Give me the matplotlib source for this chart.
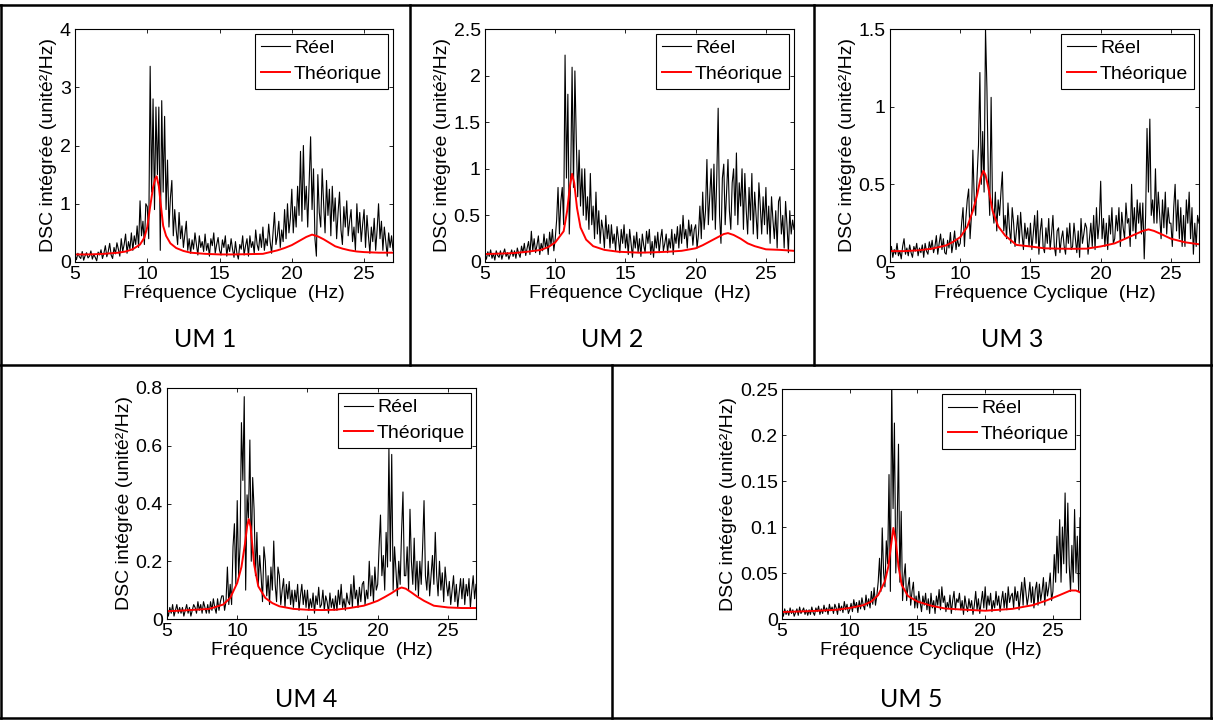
import numpy as np
import matplotlib
matplotlib.use('Agg')
import matplotlib.pyplot as plt
from matplotlib.lines import Line2D
from matplotlib.ticker import FuncFormatter

W, H = 1213, 720

# black = measured spectrum, read every 0.1 Hz from 5 to 27 Hz (one row = 1 Hz)
# red = theoretical spectrum, (frequency, value) pairs

# --- UM 1 ---
reel1 = [0.12, 0.04, 0.15, 0.09, 0.06, 0.18, 0.03, 0.11, 0.16, 0.07,
         0.10, 0.19, 0.05, 0.13, 0.08, 0.02, 0.17, 0.12, 0.21, 0.06,
         0.15, 0.28, 0.09, 0.18, 0.32, 0.12, 0.06, 0.25, 0.14, 0.33,
         0.22, 0.10, 0.40, 0.18, 0.30, 0.48, 0.15, 0.35, 0.22, 0.50,
         0.20, 0.45, 0.30, 0.62, 0.25, 1.05, 0.45, 0.70, 0.30, 1.00,
         0.95, 0.40, 3.36, 1.20, 2.80, 0.90, 2.66, 1.50, 2.66, 0.20,
         2.77, 1.20, 2.50, 0.90, 1.75, 0.60, 1.10, 1.40, 0.45, 0.90,
         0.55, 0.30, 0.85, 0.40, 0.62, 0.25, 0.48, 0.70, 0.20, 0.40,
         0.15, 0.38, 0.22, 0.50, 0.30, 0.12, 0.45, 0.25, 0.35, 0.18,
         0.48, 0.20, 0.32, 0.10, 0.40, 0.28, 0.50, 0.15, 0.30, 0.42,
         0.20, 0.12, 0.38, 0.25, 0.45, 0.10, 0.30, 0.18, 0.40, 0.22,
         0.08, 0.35, 0.15, 0.05, 0.30, 0.22, 0.45, 0.12, 0.28, 0.40,
         0.10, 0.45, 0.25, 0.35, 0.15, 0.55, 0.30, 0.20, 0.48, 0.25,
         0.60, 0.20, 0.40, 0.28, 0.65, 0.35, 0.15, 0.50, 0.85, 0.30,
         0.45, 0.70, 0.25, 0.55, 0.35, 0.90, 0.40, 1.00, 0.50, 0.75,
         1.25, 0.50, 0.95, 0.60, 1.30, 0.80, 1.90, 0.70, 2.00, 0.90,
         1.30, 0.60, 1.40, 2.15, 0.90, 1.60, 0.40, 0.10, 1.50, 0.85,
         0.60, 1.60, 1.00, 0.50, 1.40, 0.80, 1.25, 0.45, 1.30, 0.70,
         1.10, 0.40, 0.85, 1.20, 0.55, 0.30, 0.95, 0.60, 1.05, 0.45,
         0.70, 0.90, 0.35, 0.60, 0.20, 1.00, 0.50, 0.85, 0.35, 0.65,
         0.90, 0.25, 0.80, 0.45, 0.15, 0.60, 0.35, 0.75, 0.20, 0.55,
         1.00, 0.40, 0.70, 0.20, 0.60, 0.35, 0.10, 0.50, 0.25, 0.45,
         0.20]
theo1_f = [5, 6, 7, 8, 8.5, 9, 9.5, 9.8, 10, 10.2, 10.4, 10.55, 10.65, 10.8,
           10.95, 11.1, 11.3, 11.6, 12, 12.5, 13, 14, 15, 16, 17, 18, 19, 19.5,
           20, 20.5, 21, 21.4, 21.8, 22.2, 22.6, 23, 23.5, 24, 24.5, 25, 26, 27]
theo1 = [0.13, 0.13, 0.14, 0.16, 0.18, 0.22, 0.3, 0.42, 0.6, 0.95, 1.28, 1.43,
         1.47, 1.3, 0.95, 0.62, 0.45, 0.32, 0.24, 0.19, 0.16, 0.14, 0.13, 0.13,
         0.135, 0.14, 0.2, 0.24, 0.29, 0.36, 0.43, 0.47, 0.44, 0.39, 0.33, 0.27,
         0.23, 0.2, 0.18, 0.17, 0.16, 0.16]

# --- UM 2 ---
reel2 = [0.08, 0.03, 0.11, 0.06, 0.13, 0.04, 0.09, 0.02, 0.12, 0.07,
         0.05, 0.12, 0.03, 0.09, 0.14, 0.06, 0.10, 0.03, 0.08, 0.13,
         0.06, 0.12, 0.04, 0.15, 0.09, 0.05, 0.17, 0.10, 0.20, 0.07,
         0.15, 0.22, 0.08, 0.33, 0.12, 0.25, 0.10, 0.18, 0.28, 0.08,
         0.20, 0.12, 0.30, 0.15, 0.25, 0.08, 0.32, 0.18, 0.35, 0.12,
         0.25, 0.45, 0.80, 0.30, 0.65, 0.80, 0.40, 2.22, 0.90, 1.80,
         0.30, 0.90, 2.09, 0.80, 2.05, 1.30, 0.70, 1.20, 0.60, 1.00,
         0.50, 1.00, 0.45, 0.70, 0.35, 0.95, 0.40, 0.60, 0.25, 0.75,
         0.30, 0.55, 0.20, 0.45, 0.35, 0.15, 0.50, 0.25, 0.40, 0.15,
         0.40, 0.20, 0.30, 0.12, 0.38, 0.25, 0.10, 0.35, 0.20, 0.40,
         0.15, 0.30, 0.08, 0.35, 0.20, 0.05, 0.28, 0.15, 0.32, 0.10,
         0.25, 0.06, 0.30, 0.18, 0.10, 0.33, 0.20, 0.35, 0.08, 0.22,
         0.05, 0.28, 0.15, 0.32, 0.10, 0.25, 0.35, 0.12, 0.20, 0.30,
         0.10, 0.25, 0.15, 0.35, 0.08, 0.30, 0.20, 0.38, 0.15, 0.40,
         0.20, 0.50, 0.25, 0.35, 0.15, 0.45, 0.28, 0.40, 0.18, 0.35,
         0.40, 0.15, 0.30, 0.60, 0.25, 0.75, 0.35, 0.55, 1.10, 0.40,
         0.70, 1.00, 0.45, 1.05, 0.35, 0.90, 1.65, 0.50, 0.20, 0.90,
         1.05, 0.40, 0.75, 1.10, 0.55, 0.35, 0.85, 1.00, 0.50, 1.17,
         0.40, 0.85, 0.60, 1.00, 0.35, 0.95, 0.55, 0.30, 0.80, 0.45,
         0.95, 0.30, 0.75, 0.50, 0.25, 0.85, 0.60, 0.30, 0.70, 0.40,
         0.80, 0.30, 0.60, 0.20, 0.70, 0.45, 0.25, 0.55, 0.15, 0.65,
         0.70, 0.30, 0.50, 0.15, 0.65, 0.40, 0.10, 0.55, 0.30, 0.45,
         0.35]
theo2_f = [5, 6, 7, 8, 9, 9.5, 10, 10.3, 10.6, 10.85, 11.05, 11.2, 11.35, 11.55,
           11.8, 12.2, 12.7, 13.5, 14.5, 16, 17, 18, 19, 20, 20.5, 21, 21.5, 22,
           22.3, 22.7, 23.2, 23.7, 24.2, 25, 26, 27]
theo2 = [0.085, 0.09, 0.095, 0.11, 0.13, 0.16, 0.21, 0.27, 0.33, 0.55, 0.82,
         0.946, 0.85, 0.58, 0.37, 0.24, 0.17, 0.13, 0.11, 0.1, 0.104, 0.11, 0.12,
         0.147, 0.18, 0.22, 0.26, 0.3, 0.31, 0.29, 0.25, 0.2, 0.17, 0.136, 0.13,
         0.12]

# --- UM 3 ---
reel3 = [0.05, 0.10, 0.03, 0.08, 0.05, 0.12, 0.04, 0.07, 0.02, 0.10,
         0.15, 0.05, 0.09, 0.04, 0.11, 0.06, 0.03, 0.10, 0.07, 0.12,
         0.04, 0.09, 0.06, 0.11, 0.03, 0.12, 0.07, 0.05, 0.13, 0.08,
         0.14, 0.06, 0.10, 0.17, 0.05, 0.12, 0.18, 0.08, 0.15, 0.06,
         0.05, 0.14, 0.09, 0.19, 0.06, 0.12, 0.20, 0.08, 0.15, 0.10,
         0.12, 0.25, 0.35, 0.10, 0.28, 0.40, 0.47, 0.15, 0.30, 0.72,
         0.40, 0.30, 0.55, 0.75, 1.22, 0.50, 0.84, 0.45, 1.50, 1.12,
         0.55, 0.30, 1.06, 0.35, 0.25, 0.45, 0.20, 0.40, 0.30, 0.45,
         0.58, 0.20, 0.30, 0.15, 0.38, 0.22, 0.12, 0.35, 0.25, 0.10,
         0.20, 0.30, 0.12, 0.32, 0.18, 0.08, 0.25, 0.15, 0.22, 0.10,
         0.25, 0.08, 0.18, 0.30, 0.12, 0.33, 0.05, 0.20, 0.28, 0.10,
         0.06, 0.22, 0.12, 0.28, 0.08, 0.18, 0.30, 0.10, 0.04, 0.20,
         0.22, 0.06, 0.15, 0.20, 0.10, 0.05, 0.22, 0.12, 0.25, 0.08,
         0.10, 0.25, 0.15, 0.06, 0.20, 0.03, 0.28, 0.12, 0.18, 0.25,
         0.22, 0.05, 0.15, 0.25, 0.10, 0.30, 0.08, 0.35, 0.15, 0.25,
         0.52, 0.15, 0.28, 0.10, 0.25, 0.08, 0.30, 0.18, 0.35, 0.12,
         0.15, 0.30, 0.20, 0.35, 0.10, 0.32, 0.22, 0.15, 0.38, 0.25,
         0.28, 0.10, 0.50, 0.20, 0.35, 0.15, 0.40, 0.25, 0.38, 0.18,
         0.38, 0.02, 0.30, 0.86, 0.45, 0.92, 0.30, 0.40, 0.25, 0.60,
         0.25, 0.45, 0.30, 0.15, 0.40, 0.22, 0.45, 0.18, 0.35, 0.25,
         0.25, 0.10, 0.35, 0.50, 0.20, 0.40, 0.15, 0.35, 0.10, 0.30,
         0.10, 0.40, 0.25, 0.45, 0.15, 0.35, 0.05, 0.25, 0.10, 0.30,
         0.25]
theo3_f = [5, 6, 7, 8, 9, 9.5, 10, 10.5, 10.9, 11.2, 11.45, 11.65, 11.8, 12.0,
           12.3, 12.7, 13.2, 14, 15, 16, 17, 18, 19, 20, 21, 21.5, 22, 22.5, 23,
           23.4, 23.8, 24.3, 25, 26, 27]
theo3 = [0.07, 0.07, 0.075, 0.086, 0.107, 0.13, 0.16, 0.226, 0.33, 0.43, 0.54,
         0.587, 0.56, 0.48, 0.33, 0.23, 0.17, 0.11, 0.1, 0.088, 0.086, 0.085,
         0.086, 0.1, 0.12, 0.14, 0.16, 0.18, 0.2, 0.21, 0.2, 0.18, 0.15, 0.127,
         0.114]

# --- UM 4 ---
reel4 = [0.03, 0.01, 0.04, 0.02, 0.05, 0.01, 0.03, 0.05, 0.02, 0.04,
         0.02, 0.04, 0.01, 0.03, 0.05, 0.02, 0.04, 0.01, 0.03, 0.05,
         0.04, 0.02, 0.06, 0.03, 0.05, 0.02, 0.06, 0.04, 0.02, 0.05,
         0.02, 0.06, 0.03, 0.07, 0.04, 0.02, 0.07, 0.03, 0.06, 0.08,
         0.08, 0.03, 0.06, 0.18, 0.05, 0.12, 0.05, 0.25, 0.33, 0.12,
         0.41, 0.15, 0.25, 0.68, 0.48, 0.77, 0.10, 0.43, 0.35, 0.62,
         0.20, 0.49, 0.38, 0.15, 0.30, 0.12, 0.22, 0.15, 0.06, 0.25,
         0.20, 0.08, 0.15, 0.05, 0.18, 0.10, 0.27, 0.12, 0.06, 0.18,
         0.15, 0.05, 0.10, 0.14, 0.04, 0.12, 0.07, 0.13, 0.05, 0.10,
         0.04, 0.10, 0.06, 0.12, 0.03, 0.08, 0.12, 0.05, 0.10, 0.04,
         0.10, 0.03, 0.07, 0.04, 0.09, 0.02, 0.08, 0.05, 0.11, 0.04,
         0.05, 0.10, 0.03, 0.08, 0.06, 0.02, 0.09, 0.04, 0.07, 0.03,
         0.08, 0.03, 0.10, 0.05, 0.12, 0.04, 0.07, 0.03, 0.09, 0.06,
         0.05, 0.12, 0.04, 0.15, 0.07, 0.10, 0.04, 0.11, 0.06, 0.12,
         0.13, 0.05, 0.10, 0.07, 0.20, 0.08, 0.15, 0.06, 0.18, 0.10,
         0.12, 0.25, 0.36, 0.15, 0.22, 0.10, 0.30, 0.18, 0.59, 0.20,
         0.57, 0.10, 0.25, 0.17, 0.08, 0.20, 0.12, 0.30, 0.44, 0.15,
         0.15, 0.25, 0.10, 0.38, 0.20, 0.12, 0.28, 0.10, 0.20, 0.08,
         0.20, 0.12, 0.25, 0.41, 0.15, 0.10, 0.20, 0.08, 0.15, 0.22,
         0.12, 0.30, 0.15, 0.08, 0.20, 0.10, 0.16, 0.06, 0.18, 0.12,
         0.08, 0.13, 0.05, 0.10, 0.15, 0.06, 0.12, 0.04, 0.09, 0.14,
         0.07, 0.14, 0.05, 0.12, 0.08, 0.14, 0.04, 0.10, 0.15, 0.07,
         0.12]
theo4_f = [5, 6, 7, 8, 9, 9.5, 10, 10.3, 10.55, 10.7, 10.82, 10.95, 11.2, 11.5,
           12, 12.5, 13, 14, 15, 16, 17, 18, 19, 19.5, 20, 20.5, 21, 21.4, 21.7,
           22, 22.4, 22.8, 23.3, 24, 25, 26, 27]
theo4 = [0.027, 0.029, 0.032, 0.035, 0.05, 0.073, 0.125, 0.18, 0.26, 0.32, 0.346,
         0.32, 0.19, 0.113, 0.073, 0.055, 0.044, 0.035, 0.032, 0.031, 0.032,
         0.038, 0.046, 0.054, 0.063, 0.076, 0.09, 0.103, 0.109, 0.105, 0.092,
         0.078, 0.063, 0.046, 0.04, 0.038, 0.038]

# --- UM 5 ---
reel5 = [0.008, 0.003, 0.011, 0.005, 0.009, 0.004, 0.012, 0.006, 0.010, 0.003,
         0.007, 0.011, 0.004, 0.013, 0.006, 0.009, 0.012, 0.005, 0.010, 0.004,
         0.010, 0.005, 0.013, 0.007, 0.004, 0.012, 0.008, 0.014, 0.005, 0.011,
         0.006, 0.015, 0.008, 0.012, 0.005, 0.016, 0.009, 0.013, 0.006, 0.016,
         0.012, 0.005, 0.017, 0.009, 0.014, 0.007, 0.019, 0.010, 0.016, 0.006,
         0.010, 0.017, 0.008, 0.021, 0.012, 0.018, 0.007, 0.020, 0.011, 0.023,
         0.015, 0.010, 0.026, 0.014, 0.022, 0.012, 0.030, 0.016, 0.034, 0.015,
         0.025, 0.040, 0.066, 0.030, 0.099, 0.050, 0.035, 0.085, 0.060, 0.157,
         0.030, 0.260, 0.120, 0.213, 0.050, 0.100, 0.190, 0.040, 0.117, 0.020,
         0.045, 0.060, 0.020, 0.035, 0.045, 0.015, 0.030, 0.040, 0.012, 0.025,
         0.012, 0.030, 0.018, 0.008, 0.025, 0.015, 0.028, 0.010, 0.022, 0.006,
         0.028, 0.012, 0.020, 0.006, 0.025, 0.015, 0.032, 0.010, 0.035, 0.018,
         0.025, 0.008, 0.018, 0.012, 0.026, 0.006, 0.020, 0.030, 0.010, 0.022,
         0.018, 0.028, 0.010, 0.020, 0.005, 0.025, 0.015, 0.008, 0.022, 0.012,
         0.020, 0.005, 0.015, 0.030, 0.010, 0.022, 0.006, 0.018, 0.030, 0.012,
         0.035, 0.010, 0.025, 0.015, 0.028, 0.008, 0.020, 0.012, 0.030, 0.015,
         0.025, 0.008, 0.020, 0.030, 0.012, 0.028, 0.010, 0.035, 0.018, 0.025,
         0.028, 0.012, 0.035, 0.020, 0.030, 0.010, 0.025, 0.040, 0.015, 0.045,
         0.030, 0.015, 0.025, 0.040, 0.018, 0.035, 0.012, 0.032, 0.040, 0.015,
         0.038, 0.020, 0.030, 0.045, 0.015, 0.040, 0.025, 0.035, 0.050, 0.020,
         0.030, 0.070, 0.040, 0.090, 0.050, 0.108, 0.040, 0.100, 0.060, 0.137,
         0.050, 0.126, 0.060, 0.030, 0.080, 0.040, 0.119, 0.050, 0.090, 0.030,
         0.110]
theo5_f = [5, 7, 9, 10, 11, 11.6, 12.1, 12.6, 12.85, 13.05, 13.22, 13.4, 13.6,
           13.84, 14.3, 15, 16, 17, 18, 20, 22, 23.5, 24.5, 25.5, 26.3, 26.7, 27]
theo5 = [0.0076, 0.0085, 0.01, 0.012, 0.015, 0.019, 0.026, 0.041, 0.057, 0.08,
         0.099, 0.085, 0.057, 0.037, 0.025, 0.019, 0.0145, 0.0115, 0.0105, 0.009,
         0.011, 0.015, 0.02, 0.026, 0.031, 0.031, 0.029]

captions = ['UM 1', 'UM 2', 'UM 3', 'UM 4', 'UM 5']
yticks = [[0, 1, 2, 3, 4],
          [0, 0.5, 1, 1.5, 2, 2.5],
          [0, 0.5, 1, 1.5],
          [0, 0.2, 0.4, 0.6, 0.8],
          [0, 0.05, 0.1, 0.15, 0.2, 0.25]]

plt.rcParams['font.family'] = ['Liberation Sans', 'DejaVu Sans']
fig = plt.figure(figsize=(W / 100, H / 100), dpi=100)


def panel(box, reel, tf, tv, yt):
    # box in pixels: left, top, right, bottom
    l, t, r, b = box
    ax = fig.add_axes([l / W, 1 - b / H, (r - l) / W, (b - t) / H])
    f = np.linspace(5, 27, len(reel))
    ax.plot(f, reel, color='black', lw=0.8, label='Réel')
    ax.plot(tf, tv, color='red', lw=1.4, label='Théorique')
    ax.set_xlim(5, 27)
    ax.set_ylim(0, yt[-1])
    ax.set_xticks([5, 10, 15, 20, 25])
    ax.set_yticks(yt)
    ax.yaxis.set_major_formatter(FuncFormatter(lambda v, p: '%g' % round(v, 4)))
    ax.tick_params(direction='in', top=True, right=True, labelsize=14,
                   length=3, width=0.6, pad=3)
    for s in ax.spines.values():
        s.set_linewidth(0.8)
    ax.set_xlabel('Fréquence Cyclique  (Hz)', fontsize=14, labelpad=1)
    ax.set_ylabel('DSC intégrée (unité²/Hz)', fontsize=14, labelpad=2)
    leg = ax.legend(loc='upper right', fontsize=14, fancybox=False,
                    edgecolor='black', framealpha=1, handlelength=1.5,
                    handletextpad=0.2, borderpad=0.3, labelspacing=0.4,
                    borderaxespad=0.25)
    leg.get_frame().set_linewidth(0.8)
    return ax


panel((75, 29, 393, 262), reel1, theo1_f, theo1, yticks[0])
panel((485, 29, 794, 262), reel2, theo2_f, theo2, yticks[1])
panel((890, 29, 1199, 262), reel3, theo3_f, theo3, yticks[2])
panel((167, 388, 476, 619), reel4, theo4_f, theo4, yticks[3])
panel((782, 389, 1080, 619), reel5, theo5_f, theo5, yticks[4])

# captions under each chart
cap_xy = [(205, 347), (612, 347), (1012, 347), (306, 707), (911, 707)]
for txt, (cx, cy) in zip(captions, cap_xy):
    fig.text(cx / W, 1 - cy / H, txt, fontsize=18, family='Lato',
             ha='center', va='baseline')


# table borders
def hline(y, x0, x1):
    fig.add_artist(Line2D([x0 / W, x1 / W], [1 - y / H, 1 - y / H],
                          color='black', lw=1.8))


def vline(x, y0, y1):
    fig.add_artist(Line2D([x / W, x / W], [1 - y0 / H, 1 - y1 / H],
                          color='black', lw=1.8))


hline(5, 0, 1212)
hline(365, 0, 1212)
hline(718, 0, 1212)
vline(1, 5, 718)
vline(1211, 5, 718)
vline(410, 5, 365)
vline(814, 5, 365)
vline(612, 365, 718)

fig.savefig('out.png', dpi=100)
